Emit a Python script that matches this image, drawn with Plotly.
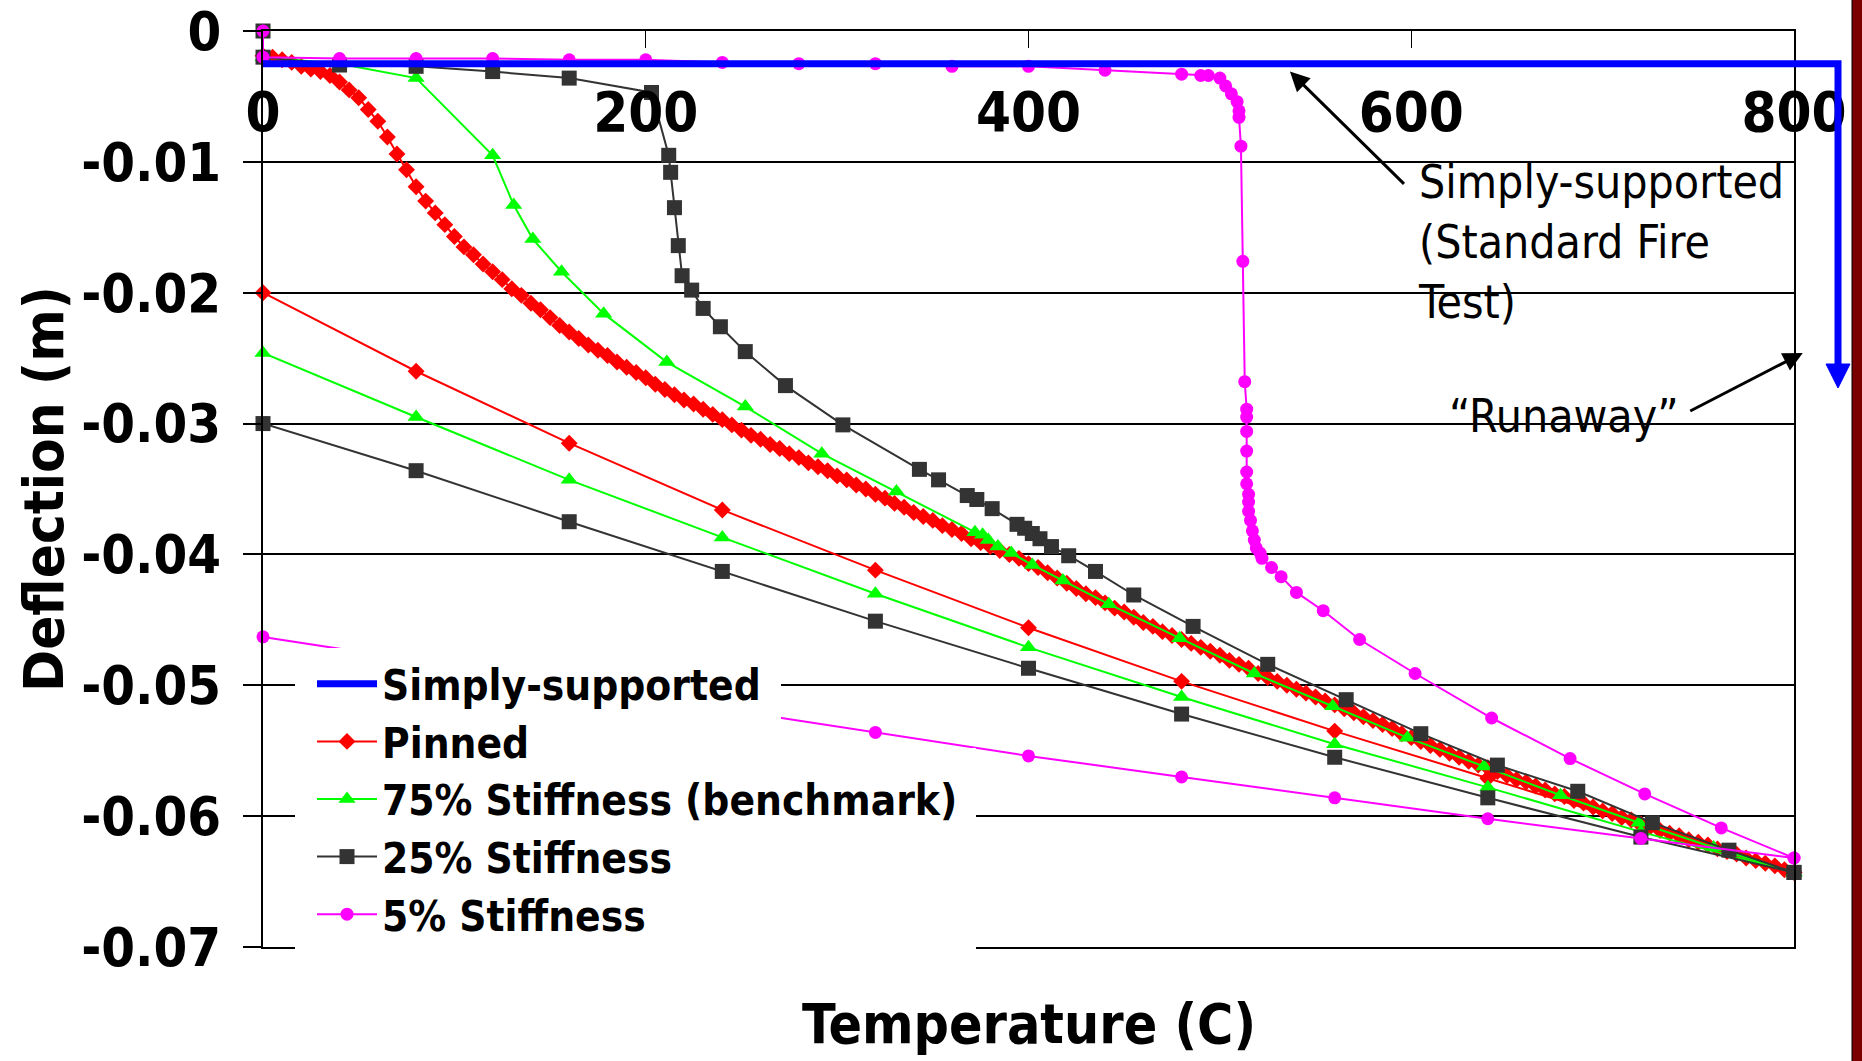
import plotly.graph_objects as go

FONT = "DejaVu Sans Condensed, DejaVu Sans, sans-serif"

# ---------------- data ----------------
x_ticks = [0, 200, 400, 600, 800]
x_labels = ["0", "200", "400", "600", "800"]
y_ticks = [0, -0.01, -0.02, -0.03, -0.04, -0.05, -0.06, -0.07]
y_labels = ["0", "-0.01", "-0.02", "-0.03", "-0.04", "-0.05", "-0.06", "-0.07"]

# Simply-supported
ss_temp = [0, 800]
ss_defl = [-0.0025, -0.0025]

# Pinned: dense curve + straight segment
pin_temp = [0, 5, 10, 15, 20, 25, 30, 35, 40, 45,
            50, 55, 60, 65, 70, 75, 80, 85, 90, 95,
            100, 105, 110, 115, 120, 125, 130, 135, 140, 145,
            150, 155, 160, 165, 170, 175, 180, 185, 190, 195,
            200, 205, 210, 215, 220, 225, 230, 235, 240, 245,
            250, 255, 260, 265, 270, 275, 280, 285, 290, 295,
            300, 305, 310, 315, 320, 325, 330, 335, 340, 345,
            350, 355, 360, 365, 370, 375, 380, 385, 390, 395,
            400, 405, 410, 415, 420, 425, 430, 435, 440, 445,
            450, 455, 460, 465, 470, 475, 480, 485, 490, 495,
            500, 505, 510, 515, 520, 525, 530, 535, 540, 545,
            550, 555, 560, 565, 570, 575, 580, 585, 590, 595,
            600, 605, 610, 615, 620, 625, 630, 635, 640, 645,
            650, 655, 660, 665, 670, 675, 680, 685, 690, 695,
            700, 705, 710, 715, 720, 725, 730, 735, 740, 745,
            750, 755, 760, 765, 770, 775, 780, 785, 790, 795,
            800]
pin_defl = [-0.0019, -0.0020, -0.0022, -0.0024, -0.0027, -0.0029, -0.0031, -0.0034, -0.0039, -0.0045,
            -0.0051, -0.0060, -0.0069, -0.0081, -0.0094, -0.0106, -0.0119, -0.0130, -0.0139, -0.0148,
            -0.0157, -0.0165, -0.0171, -0.0178, -0.0184, -0.0190, -0.0197, -0.0202, -0.0208, -0.0213,
            -0.0219, -0.0225, -0.0230, -0.0235, -0.0240, -0.0244, -0.0248, -0.0253, -0.0257, -0.0261,
            -0.0265, -0.0270, -0.0274, -0.0278, -0.0282, -0.0285, -0.0289, -0.0293, -0.0297, -0.0301,
            -0.0305, -0.0309, -0.0312, -0.0316, -0.0319, -0.0323, -0.0326, -0.0330, -0.0333, -0.0336,
            -0.0340, -0.0343, -0.0347, -0.0350, -0.0354, -0.0357, -0.0361, -0.0364, -0.0368, -0.0371,
            -0.0374, -0.0378, -0.0381, -0.0384, -0.0388, -0.0391, -0.0394, -0.0397, -0.0400, -0.0403,
            -0.0407, -0.0410, -0.0414, -0.0418, -0.0422, -0.0426, -0.0430, -0.0433, -0.0437, -0.0441,
            -0.0444, -0.0448, -0.0452, -0.0455, -0.0459, -0.0462, -0.0465, -0.0468, -0.0471, -0.0474,
            -0.0477, -0.0481, -0.0484, -0.0487, -0.0491, -0.0494, -0.0497, -0.0500, -0.0503, -0.0506,
            -0.0509, -0.0512, -0.0515, -0.0518, -0.0521, -0.0524, -0.0527, -0.0530, -0.0533, -0.0537,
            -0.0540, -0.0543, -0.0546, -0.0549, -0.0552, -0.0555, -0.0558, -0.0561, -0.0563, -0.0566,
            -0.0569, -0.0572, -0.0574, -0.0577, -0.0580, -0.0583, -0.0585, -0.0588, -0.0590, -0.0593,
            -0.0596, -0.0598, -0.0601, -0.0603, -0.0606, -0.0608, -0.0611, -0.0613, -0.0615, -0.0618,
            -0.0620, -0.0622, -0.0625, -0.0627, -0.0629, -0.0632, -0.0634, -0.0636, -0.0638, -0.0641,
            -0.0643]
pin_line_temp = [0, 80, 160, 240, 320, 400, 480, 560, 640, 720, 800]
pin_line_defl = [-0.0200, -0.0260, -0.0315, -0.0366, -0.0412, -0.0456, -0.0497, -0.0535, -0.0571, -0.0607, -0.0643]

# 75% Stiffness (benchmark)
s75_temp = [0, 40, 80, 120, 131, 141, 156, 178, 211, 252, 292, 331, 372, 376, 379, 384, 391,
            402, 418, 442, 479, 518, 559, 598, 638, 678, 719, 758, 800]
s75_defl = [-0.0020, -0.0025, -0.0036, -0.0095, -0.0133, -0.0159, -0.0184, -0.0216, -0.0253,
            -0.0287, -0.0323, -0.0352, -0.0383, -0.0385, -0.0389, -0.0394, -0.0399, -0.0408,
            -0.0420, -0.0438, -0.0464, -0.0491, -0.0516, -0.0540, -0.0562, -0.0584, -0.0605,
            -0.0624, -0.0643]
s75_line_temp = [0, 80, 160, 240, 320, 400, 480, 560, 640, 720, 800]
s75_line_defl = [-0.0246, -0.0295, -0.0343, -0.0387, -0.0430, -0.0471, -0.0509, -0.0545, -0.0578, -0.0612, -0.0643]

# 25% Stiffness
s25_temp = [0, 0, 40, 80, 120, 160, 203, 212, 213, 215, 217, 219, 224, 230, 239, 252, 273, 303,
            343, 353, 368, 373, 381, 394, 398, 402, 406, 412, 421, 435, 455, 486, 525, 566, 605,
            645, 687, 726, 766, 800]
s25_defl = [0.0, -0.0020, -0.0026, -0.0027, -0.0031, -0.0036, -0.0047, -0.0095, -0.0108, -0.0135,
            -0.0164, -0.0187, -0.0198, -0.0212, -0.0226, -0.0245, -0.0271, -0.0301, -0.0335,
            -0.0343, -0.0355, -0.0358, -0.0365, -0.0377, -0.0380, -0.0384, -0.0388, -0.0394,
            -0.0401, -0.0413, -0.0431, -0.0455, -0.0484, -0.0511, -0.0537, -0.0561, -0.0581,
            -0.0605, -0.0626, -0.0643]
s25_line_temp = [0, 80, 160, 240, 320, 400, 480, 560, 640, 720, 800]
s25_line_defl = [-0.0300, -0.0336, -0.0375, -0.0413, -0.0451, -0.0487, -0.0522, -0.0555, -0.0586, -0.0616, -0.0643]

# 5% Stiffness
s5_temp = [0, 0, 40, 80, 120, 160, 200, 240, 280, 320, 360, 400, 440, 480, 490, 494, 500, 503,
           506, 509, 510, 510, 511, 512, 513, 514, 514, 514, 514, 514, 514, 515, 515, 515, 516,
           517, 518, 519, 521, 522, 527, 532, 540, 554, 573, 602, 642, 683, 722, 762, 800]
s5_defl = [0.0, -0.0020, -0.0021, -0.0021, -0.0021, -0.0022, -0.0022, -0.0024, -0.0025, -0.0025,
           -0.0027, -0.0027, -0.0030, -0.0033, -0.0034, -0.0034, -0.0036, -0.0042, -0.0048,
           -0.0054, -0.0061, -0.0066, -0.0088, -0.0176, -0.0268, -0.0289, -0.0295, -0.0306,
           -0.0321, -0.0337, -0.0346, -0.0354, -0.0360, -0.0367, -0.0374, -0.0382, -0.0389,
           -0.0395, -0.0399, -0.0403, -0.0410, -0.0417, -0.0429, -0.0443, -0.0465, -0.0491,
           -0.0525, -0.0556, -0.0583, -0.0609, -0.0632]
s5_line_temp = [0, 80, 160, 240, 320, 400, 480, 560, 640, 720, 800]
s5_line_defl = [-0.0463, -0.0481, -0.0499, -0.0518, -0.0536, -0.0554, -0.0570, -0.0586, -0.0602, -0.0617, -0.0632]

# ---------------- figure ----------------
def joined(t1, d1, t2, d2):
    return t1 + [None] + t2, d1 + [None] + d2

fig = go.Figure()

t, d = joined(pin_temp, pin_defl, pin_line_temp, pin_line_defl)
fig.add_trace(go.Scatter(x=t, y=d, mode="lines+markers", name="Pinned", legendrank=2, cliponaxis=False,
                         line=dict(color="#FF0000", width=2),
                         marker=dict(symbol="diamond", size=13, color="#FF0000")))
t, d = joined(s75_temp, s75_defl, s75_line_temp, s75_line_defl)
fig.add_trace(go.Scatter(x=t, y=d, mode="lines+markers", name="75% Stiffness (benchmark)", legendrank=3,
                         cliponaxis=False,
                         line=dict(color="#00FF00", width=2),
                         marker=dict(symbol="triangle-up", size=15, color="#00FF00")))
t, d = joined(s25_temp, s25_defl, s25_line_temp, s25_line_defl)
fig.add_trace(go.Scatter(x=t, y=d, mode="lines+markers", name="25% Stiffness", legendrank=4, cliponaxis=False,
                         line=dict(color="#333333", width=2),
                         marker=dict(symbol="square", size=15, color="#333333")))
t, d = joined(s5_temp, s5_defl, s5_line_temp, s5_line_defl)
fig.add_trace(go.Scatter(x=t, y=d, mode="lines+markers", name="5% Stiffness", legendrank=5, cliponaxis=False,
                         line=dict(color="#FF00FF", width=2),
                         marker=dict(symbol="circle", size=13, color="#FF00FF")))
fig.add_trace(go.Scatter(x=ss_temp, y=ss_defl, mode="lines", name="Simply-supported", legendrank=1,
                         cliponaxis=False, line=dict(color="#0000FF", width=7)))

# geometry helpers (paper coordinates) for decorations
L, R, T, B = 263, 1794, 31, 947
W, H = R - L, B - T
def px(xp):
    return (xp - L) / W
def py(yp):
    return (B - yp) / H

shapes = [
    # white backing behind the legend rows
    dict(type="rect", xref="paper", yref="paper", x0=px(295), x1=px(781), y0=py(720), y1=py(648),
         fillcolor="white", line=dict(width=0), layer="above"),
    dict(type="rect", xref="paper", yref="paper", x0=px(295), x1=px(976), y0=py(953), y1=py(748),
         fillcolor="white", line=dict(width=0), layer="above"),
    # blue "runaway" extension and arrow head
    dict(type="path", xref="paper", yref="paper",
         path=f"M 1,{py(63.7)} L {px(1838)},{py(63.7)} L {px(1838)},{py(368)}",
         line=dict(color="#0000FF", width=7), layer="above"),
    dict(type="path", xref="paper", yref="paper",
         path=f"M {px(1826)},{py(364)} L {px(1850)},{py(364)} L {px(1838)},{py(388)} Z",
         fillcolor="#0000FF", line=dict(color="#0000FF", width=1), layer="above"),
    # maroon slide border on the right
    dict(type="rect", xref="paper", yref="paper", x0=px(1852), x1=px(1863), y0=py(1062), y1=py(-1),
         fillcolor="#7B0000", line=dict(color="black", width=1), layer="above"),
]

annotations = [
    dict(x=536.6, y=-0.0031, ax=597, ay=-0.0118, xref="x", yref="y", axref="x", ayref="y",
         text="", showarrow=True, arrowhead=2, arrowsize=1.3, arrowwidth=3, arrowcolor="black"),
    dict(x=804.6, y=-0.0246, ax=745, ay=-0.0291, xref="x", yref="y", axref="x", ayref="y",
         text="", showarrow=True, arrowhead=2, arrowsize=1.3, arrowwidth=3, arrowcolor="black"),
    dict(x=602.4, y=-0.0093, xref="x", yref="y", xanchor="left", yanchor="top", align="left",
         text="Simply-supported<br>(Standard Fire<br>Test)", showarrow=False,
         font=dict(family=FONT, size=46, color="black")),
    dict(x=680, y=-0.0294, xref="x", yref="y", xanchor="center", yanchor="middle",
         text="\u201cRunaway\u201d", showarrow=False,
         font=dict(family=FONT, size=46, color="black")),
    dict(x=0.5, y=py(1024), xref="paper", yref="paper", xanchor="center", yanchor="middle",
         text="Temperature (C)", showarrow=False,
         font=dict(family=FONT, size=55, color="black", weight="bold")),
]

fig.update_layout(
    width=1862, height=1061,
    template="none",
    paper_bgcolor="white", plot_bgcolor="white",
    margin=dict(l=L, r=1862 - R, t=T, b=1061 - B, pad=0),
    showlegend=True,
    legend=dict(x=px(312), y=py(650), xanchor="left", yanchor="top",
                bgcolor="rgba(0,0,0,0)", borderwidth=0, itemwidth=60,
                font=dict(family=FONT, size=42, color="black", weight="bold"),
                traceorder="normal"),
    shapes=shapes,
    annotations=annotations,
    xaxis=dict(range=[0, 800], side="top", tickmode="array", tickvals=x_ticks, ticktext=x_labels,
               ticks="inside", ticklen=17, tickwidth=1, tickcolor="black",
               ticklabelposition="inside", ticklabelstandoff=52, ticklabeloverflow="allow",
               showline=True, linecolor="black", linewidth=2, mirror=True,
               showgrid=False, zeroline=False, automargin=False,
               tickfont=dict(family=FONT, size=56, color="black", weight="bold")),
    yaxis=dict(range=[-0.07, 0], tickmode="array", tickvals=y_ticks, ticktext=y_labels,
               ticks="outside", ticklen=18, tickwidth=2, tickcolor="black",
               ticklabelstandoff=11, ticklabeloverflow="allow",
               showline=True, linecolor="black", linewidth=2, mirror=True,
               showgrid=True, gridcolor="black", gridwidth=2, zeroline=False, automargin=False,
               tickfont=dict(family=FONT, size=54, color="black", weight="bold"),
               title=dict(text="Deflection (m)", standoff=0,
                          font=dict(family=FONT, size=56, color="black", weight="bold"))),
)

fig.write_html("out.html")
